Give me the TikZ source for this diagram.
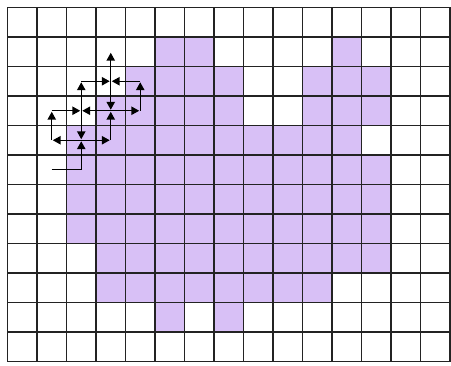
\documentclass[tikz,border=0pt]{standalone}
\usepackage{tikz}
\usepackage{xcolor}
\usetikzlibrary{arrows.meta}
\definecolor{regionpurple}{RGB}{216,192,246}
\definecolor{gridgray}{RGB}{35,35,35}

\begin{document}
\begin{tikzpicture}[>={Triangle[length=7.5pt,width=8pt]},
    move/.style={->, line width=1.1pt, shorten >=1pt}]
  \useasboundingbox (-0.254,0.254) rectangle (15.034,-12.119);
  \foreach \r/\ca/\cb in {1/5/6,1/11/11,2/4/7,2/10/12,3/3/7,3/10/12,4/2/11,5/2/12,6/2/12,7/2/12,8/3/12,9/3/10,10/5/5,10/7/7}
    \fill[regionpurple] (\ca,-\r) rectangle (\cb+1,-\r-1);
  \draw[gridgray, line width=1.3pt] (0,0) grid (15,-12);
  \foreach \c in {1,...,4}
    \foreach \r in {1,...,5}
      \coordinate (p\c-\r) at (\c+0.5,-\r-0.5);
  \draw[move] (p1-5) -- (p2-5) -- (p2-4);
  \foreach \s/\t in {2-3/2-4, 2-4/1-4, 2-4/3-4, 1-4/1-3, 1-3/2-3, 3-3/2-3, 2-3/2-2, 2-2/3-2,
      4-2/3-2, 3-2/3-1, 3-2/3-3, 3-4/3-3, 3-3/4-3, 4-3/4-2}
    \draw[move] (p\s) -- (p\t);
\end{tikzpicture}
\end{document}
